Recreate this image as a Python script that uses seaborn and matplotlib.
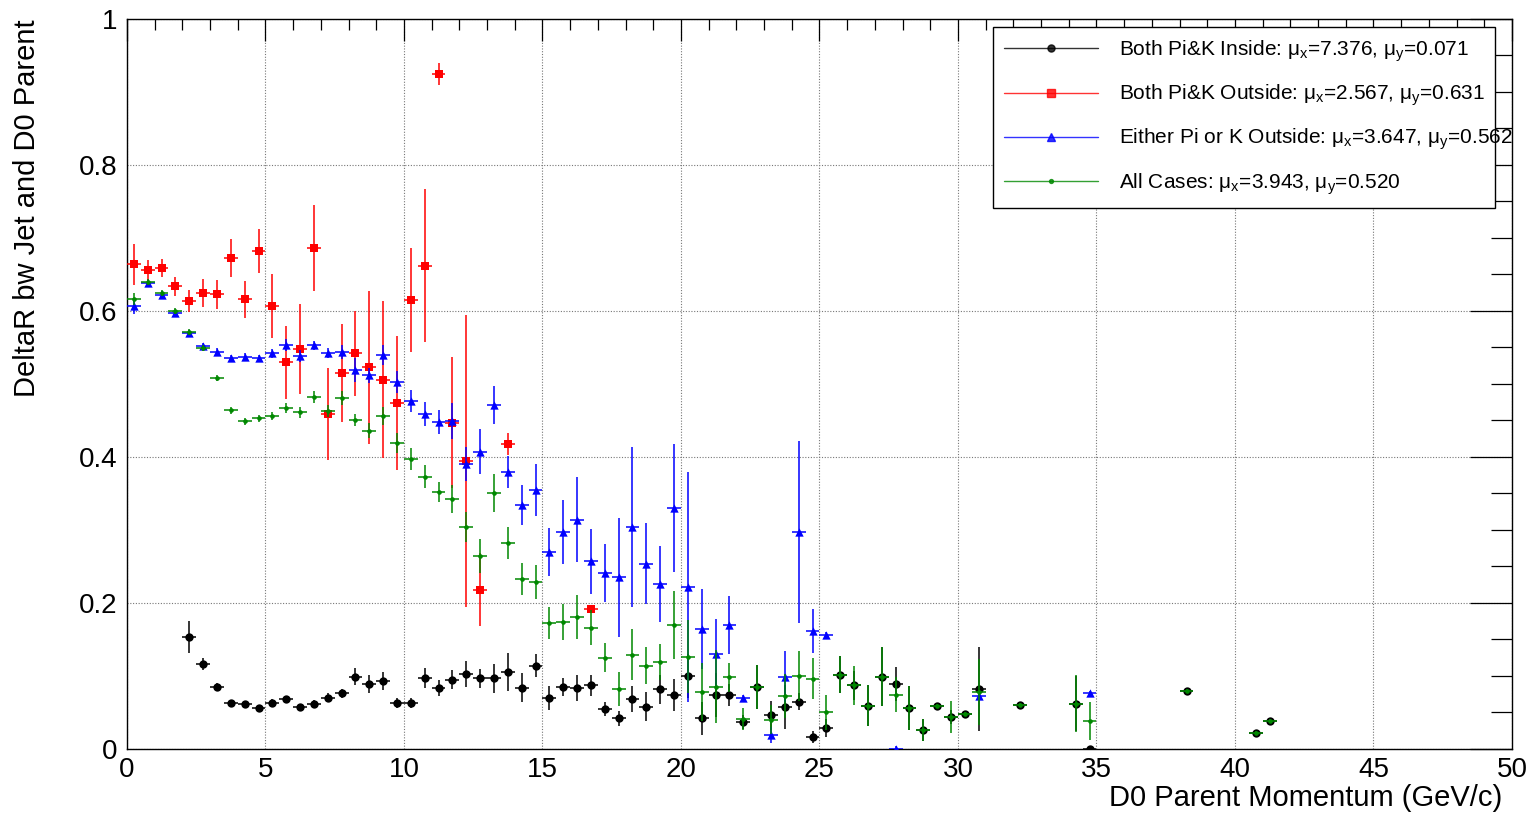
import matplotlib
matplotlib.use("Agg")
import matplotlib.pyplot as plt
from matplotlib.lines import Line2D
from matplotlib.ticker import MultipleLocator, FuncFormatter
import pandas as pd
import seaborn as sns

# bin half width of the momentum histogram (GeV/c)
bin_half = 0.25

# Both Pi&K Inside
inside_x = [2.25, 2.75, 3.25, 3.75, 4.25, 4.75, 5.25, 5.75, 6.25, 6.75,
            7.25, 7.75, 8.25, 8.75, 9.25, 9.75, 10.25, 10.75, 11.25, 11.75,
            12.25, 12.75, 13.25, 13.75, 14.25, 14.75, 15.25, 15.75, 16.25, 16.75,
            17.25, 17.75, 18.25, 18.75, 19.25, 19.75, 20.25, 20.75, 21.25, 21.75,
            22.25, 22.75, 23.25, 23.75, 24.25, 24.75, 25.25, 25.75, 26.25, 26.75,
            27.25, 27.75, 28.25, 28.75, 29.25, 29.75, 30.25, 30.75,
            32.25, 34.25, 34.75, 38.25, 40.75, 41.25]
inside_y = [0.153, 0.116, 0.085, 0.063, 0.061, 0.056, 0.063, 0.068, 0.057, 0.062,
            0.070, 0.076, 0.099, 0.089, 0.093, 0.063, 0.063, 0.097, 0.084, 0.095,
            0.103, 0.097, 0.097, 0.106, 0.084, 0.114, 0.070, 0.085, 0.084, 0.087,
            0.055, 0.042, 0.068, 0.058, 0.082, 0.074, 0.100, 0.042, 0.074, 0.074,
            0.037, 0.085, 0.046, 0.057, 0.065, 0.016, 0.029, 0.102, 0.087, 0.059,
            0.099, 0.089, 0.056, 0.026, 0.059, 0.044, 0.048, 0.082,
            0.060, 0.062, 0.0, 0.079, 0.022, 0.038]
inside_err = [0.022, 0.008, 0.005, 0.004, 0.004, 0.004, 0.005, 0.005, 0.004, 0.005,
              0.006, 0.006, 0.012, 0.013, 0.012, 0.007, 0.007, 0.014, 0.011, 0.013,
              0.018, 0.013, 0.020, 0.026, 0.020, 0.016, 0.016, 0.012, 0.018, 0.015,
              0.010, 0.010, 0.018, 0.020, 0.020, 0.022, 0.030, 0.023, 0.030, 0.015,
              0.010, 0.030, 0.020, 0.030, 0.012, 0.008, 0.012, 0.025, 0.020, 0.028,
              0.040, 0.023, 0.030, 0.015, 0.003, 0.010, 0.003, 0.057,
              0.003, 0.038, 0.003, 0.003, 0.003, 0.003]

# Both Pi&K Outside
outside_x = [0.25, 0.75, 1.25, 1.75, 2.25, 2.75, 3.25, 3.75, 4.25, 4.75,
             5.25, 5.75, 6.25, 6.75, 7.25, 7.75, 8.25, 8.75, 9.25, 9.75,
             10.25, 10.75, 11.25, 11.75, 12.25, 12.75, 13.75, 16.75]
outside_y = [0.664, 0.656, 0.659, 0.634, 0.614, 0.625, 0.623, 0.673, 0.616, 0.682,
             0.607, 0.530, 0.548, 0.686, 0.459, 0.515, 0.542, 0.523, 0.506, 0.474,
             0.615, 0.662, 0.925, 0.447, 0.395, 0.218, 0.418, 0.192]
outside_err = [0.028, 0.014, 0.012, 0.013, 0.015, 0.019, 0.020, 0.026, 0.025, 0.030,
               0.044, 0.050, 0.062, 0.059, 0.063, 0.067, 0.058, 0.105, 0.107, 0.092,
               0.071, 0.105, 0.015, 0.090, 0.200, 0.050, 0.015, 0.005]

# Either Pi or K Outside
either_x = [0.25, 0.75, 1.25, 1.75, 2.25, 2.75, 3.25, 3.75, 4.25, 4.75,
            5.25, 5.75, 6.25, 6.75, 7.25, 7.75, 8.25, 8.75, 9.25, 9.75,
            10.25, 10.75, 11.25, 11.75, 12.25, 12.75, 13.25, 13.75, 14.25, 14.75,
            15.25, 15.75, 16.25, 16.75, 17.25, 17.75, 18.25, 18.75, 19.25, 19.75,
            20.25, 20.75, 21.25, 21.75, 22.25,
            23.25, 23.75, 24.25, 24.75, 25.25, 27.75, 30.75, 34.75]
either_y = [0.607, 0.638, 0.622, 0.597, 0.570, 0.552, 0.544, 0.535, 0.537, 0.535,
            0.542, 0.553, 0.538, 0.553, 0.542, 0.544, 0.519, 0.512, 0.540, 0.503,
            0.477, 0.459, 0.448, 0.449, 0.390, 0.407, 0.471, 0.380, 0.334, 0.355,
            0.270, 0.297, 0.314, 0.257, 0.241, 0.235, 0.304, 0.254, 0.226, 0.330,
            0.222, 0.164, 0.130, 0.170, 0.070,
            0.019, 0.099, 0.297, 0.162, 0.156, 0.0, 0.073, 0.076]
either_err = [0.011, 0.004, 0.005, 0.004, 0.004, 0.004, 0.005, 0.005, 0.005, 0.005,
              0.006, 0.008, 0.008, 0.006, 0.007, 0.010, 0.016, 0.010, 0.014, 0.015,
              0.015, 0.016, 0.017, 0.025, 0.023, 0.031, 0.026, 0.022, 0.027, 0.036,
              0.033, 0.044, 0.058, 0.045, 0.040, 0.082, 0.110, 0.055, 0.052, 0.088,
              0.158, 0.055, 0.048, 0.040, 0.004,
              0.011, 0.035, 0.125, 0.030, 0.004, 0.004, 0.004, 0.004]

# All Cases
all_x = [0.25, 0.75, 1.25, 1.75, 2.25, 2.75, 3.25, 3.75, 4.25, 4.75,
         5.25, 5.75, 6.25, 6.75, 7.25, 7.75, 8.25, 8.75, 9.25, 9.75,
         10.25, 10.75, 11.25, 11.75, 12.25, 12.75, 13.25, 13.75, 14.25, 14.75,
         15.25, 15.75, 16.25, 16.75, 17.25, 17.75, 18.25, 18.75, 19.25, 19.75,
         20.25, 20.75, 21.25, 21.75, 22.25, 22.75, 23.25, 23.75, 24.25, 24.75,
         25.25, 25.75, 26.25, 26.75, 27.25, 27.75, 28.25, 28.75, 29.25, 29.75,
         30.25, 30.75, 32.25, 34.25, 34.75, 38.25, 40.75, 41.25]
all_y = [0.616, 0.640, 0.625, 0.600, 0.571, 0.549, 0.508, 0.464, 0.449, 0.453,
         0.456, 0.467, 0.461, 0.482, 0.463, 0.481, 0.451, 0.436, 0.456, 0.419,
         0.397, 0.373, 0.352, 0.342, 0.304, 0.264, 0.351, 0.282, 0.233, 0.229,
         0.172, 0.174, 0.181, 0.166, 0.125, 0.082, 0.129, 0.114, 0.119, 0.170,
         0.126, 0.078, 0.085, 0.098, 0.041, 0.085, 0.040, 0.073, 0.100, 0.096,
         0.050, 0.102, 0.087, 0.059, 0.099, 0.074, 0.056, 0.026, 0.059, 0.044,
         0.048, 0.078, 0.060, 0.062, 0.038, 0.079, 0.022, 0.038]
all_err = [0.008, 0.004, 0.004, 0.004, 0.004, 0.004, 0.004, 0.005, 0.005, 0.005,
           0.006, 0.007, 0.007, 0.008, 0.008, 0.010, 0.008, 0.010, 0.012, 0.014,
           0.015, 0.016, 0.014, 0.019, 0.020, 0.023, 0.026, 0.022, 0.022, 0.023,
           0.022, 0.025, 0.030, 0.024, 0.020, 0.023, 0.035, 0.025, 0.025, 0.047,
           0.050, 0.040, 0.050, 0.020, 0.015, 0.030, 0.020, 0.030, 0.034, 0.028,
           0.024, 0.026, 0.027, 0.028, 0.040, 0.024, 0.030, 0.015, 0.003, 0.022,
           0.003, 0.045, 0.003, 0.039, 0.026, 0.003, 0.003, 0.003]

labels = [
    "Both Pi&K Inside: μ$_\\mathrm{x}$=7.376, μ$_\\mathrm{y}$=0.071",
    "Both Pi&K Outside: μ$_\\mathrm{x}$=2.567, μ$_\\mathrm{y}$=0.631",
    "Either Pi or K Outside: μ$_\\mathrm{x}$=3.647, μ$_\\mathrm{y}$=0.562",
    "All Cases: μ$_\\mathrm{x}$=3.943, μ$_\\mathrm{y}$=0.520",
]

sns.set_style("white")
plt.rcParams["font.family"] = ["Liberation Sans", "DejaVu Sans"]
plt.rcParams["mathtext.fontset"] = "custom"
plt.rcParams["mathtext.rm"] = "Liberation Sans"
plt.rcParams["mathtext.it"] = "Liberation Sans"
plt.rcParams["text.color"] = "black"
plt.rcParams["axes.labelcolor"] = "black"
plt.rcParams["xtick.color"] = "black"
plt.rcParams["ytick.color"] = "black"

fig = plt.figure(figsize=(15.33, 8.14), dpi=100)
ax = fig.add_axes([0.0828, 0.0799, 0.9035, 0.8968])

# (x, y, err, colour, marker, marker area)
series = [
    (inside_x, inside_y, inside_err, "black", "o", 36),
    (outside_x, outside_y, outside_err, "#ff0000", "s", 38),
    (either_x, either_y, either_err, "#0000ff", "^", 36),
    (all_x, all_y, all_err, "#008800", "o", 11),
]

handles = []
for i, (x, y, e, color, marker, size) in enumerate(series):
    df = pd.DataFrame({"p": x, "dr": y, "err": e})
    ax.errorbar(df["p"], df["dr"], xerr=bin_half, yerr=df["err"], fmt="none",
                ecolor=color, elinewidth=1.1, capsize=0, zorder=2 + i)
    sns.scatterplot(data=df, x="p", y="dr", color=color, marker=marker, s=size,
                    linewidth=0, ax=ax, zorder=2.5 + i, legend=False)
    handles.append(Line2D([0], [0], color=color, lw=1, marker=marker,
                          markersize=size ** 0.5 * 0.85, alpha=0.8))

ax.set_xlim(0, 50)
ax.set_ylim(0, 1)
ax.xaxis.set_major_locator(MultipleLocator(5))
ax.xaxis.set_minor_locator(MultipleLocator(1))
ax.yaxis.set_major_locator(MultipleLocator(0.2))
ax.yaxis.set_minor_locator(MultipleLocator(0.05))
ax.yaxis.set_major_formatter(FuncFormatter(lambda v, p: "%g" % round(v, 2)))

ax.tick_params(axis="both", which="both", direction="in", top=True, right=True,
               width=0.9, labelsize=20)
ax.tick_params(axis="y", which="major", length=30, pad=7)
ax.tick_params(axis="y", which="minor", length=15)
ax.tick_params(axis="x", which="major", length=16, pad=6)
ax.tick_params(axis="x", which="minor", length=8)

ax.grid(True, which="major", color="#777777", linestyle=(0, (1, 1.5)), linewidth=0.8)
for s in ax.spines.values():
    s.set_color("black")
    s.set_linewidth(1)

ax.set_xlabel("D0 Parent Momentum (GeV/c)", fontsize=21, loc="right")
ax.xaxis.set_label_coords(0.993, -0.067)
ax.xaxis.label.set_va("center")
ax.set_ylabel("DeltaR bw Jet and D0 Parent", fontsize=21, loc="top")
ax.yaxis.set_label_coords(-0.072, 1.0)
ax.yaxis.label.set_va("center")

leg = ax.legend(handles, labels, loc="upper left", bbox_to_anchor=(0.625, 0.989, 0.363, 0.0),
                mode="expand", borderaxespad=0, fontsize=15, handlelength=4.5,
                handletextpad=1.0, labelspacing=0.9, borderpad=0.55,
                fancybox=False, framealpha=1, edgecolor="black")
leg.get_frame().set_linewidth(1)
leg.set_zorder(10)

fig.savefig("out.png", dpi=100)
plt.close()
